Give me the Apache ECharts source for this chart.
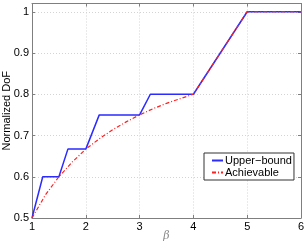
<!DOCTYPE html>
<html><head><meta charset="utf-8">
<script src="https://cdn.jsdelivr.net/npm/echarts@6/dist/echarts.min.js"></script>
<style>html,body{margin:0;padding:0;background:#fff}#c{width:306px;height:248px}</style>
</head><body><div id="c"></div>
<script>
var upperX = [1, 1.2, 1.5, 1.667, 2, 2.25, 3, 3.2, 4, 5, 6];
var upperY = [0.5, 0.6, 0.6, 0.667, 0.667, 0.75, 0.75, 0.8, 0.8, 1, 1];
var achX = [1, 1.25, 1.5, 1.75, 2, 2.25, 2.5, 2.75, 3, 3.25, 3.5, 3.75, 4, 5, 6];
var achY = [0.5, 0.556, 0.6, 0.636, 0.667, 0.692, 0.714, 0.733, 0.75, 0.765, 0.778, 0.789, 0.8, 1, 1];
var xTicks = [1, 2, 3, 4, 5, 6];
var yTicks = [0.5, 0.6, 0.7, 0.8, 0.9, 1];
var seriesNames = ['Upper\u2212bound', 'Achievable'];

function zip(a, b) { return a.map(function (v, i) { return [v, b[i]]; }); }
var frame = '#7f7f7f';
var font = 'Liberation Sans, Arial, sans-serif';
function isTick(list, v) { return list.some(function (t) { return Math.abs(t - v) < 1e-6; }); }

var chart = echarts.init(document.getElementById('c'));
chart.setOption({
  animation: false,
  grid: { left: 32, right: 5, top: 3.5, bottom: 30, containLabel: false, outerBoundsMode: 'none' },
  xAxis: [{
    type: 'value', min: 1, max: 6, interval: 1,
    name: '\u03b2', nameLocation: 'middle', nameGap: 13, nameMoveOverlap: false,
    nameTextStyle: { fontStyle: 'italic', color: '#8a8a8a', fontSize: 11, fontFamily: 'DejaVu Serif, serif' },
    axisLine: { show: true, lineStyle: { color: frame, width: 1 } },
    axisTick: { show: true, inside: true, length: 3, lineStyle: { color: frame } },
    axisLabel: { color: '#000', fontSize: 11, fontFamily: font, margin: 3,
      formatter: function (v) { return isTick(xTicks, v) ? String(v) : ''; } },
    splitLine: { show: true, lineStyle: { color: '#d4d4d4', type: [1, 2], width: 1 } }
  }, {
    type: 'value', min: 1, max: 6, interval: 1, position: 'top',
    axisLine: { show: true, lineStyle: { color: frame, width: 1 } },
    axisTick: { show: true, inside: true, length: 3, lineStyle: { color: frame } },
    axisLabel: { show: false }, splitLine: { show: false }
  }],
  yAxis: [{
    type: 'value', min: 0.5, max: 1.02, interval: 0.1,
    name: 'Normalized DoF', nameLocation: 'middle', nameGap: 20, nameMoveOverlap: false,
    nameTextStyle: { color: '#000', fontSize: 11, fontFamily: font },
    axisLine: { show: true, lineStyle: { color: frame, width: 1 } },
    axisTick: { show: true, inside: true, length: 3, lineStyle: { color: frame } },
    axisLabel: { color: '#000', fontSize: 11, fontFamily: font, margin: 3,
      formatter: function (v) { return isTick(yTicks, v) ? String(Math.round(v * 10) / 10) : ''; } },
    splitLine: { show: true, lineStyle: { color: '#d4d4d4', type: [1, 2], width: 1 } }
  }, {
    type: 'value', min: 0.5, max: 1.02, interval: 0.1, position: 'right',
    axisLine: { show: true, lineStyle: { color: frame, width: 1 } },
    axisTick: { show: true, inside: true, length: 3, lineStyle: { color: frame } },
    axisLabel: { show: false }, splitLine: { show: false }
  }],
  legend: {
    orient: 'vertical', left: 204, top: 153,
    backgroundColor: '#fff', borderColor: '#333', borderWidth: 1,
    padding: [2, 2, 2, 7], itemGap: 1, itemWidth: 11, itemHeight: 12,
    itemStyle: { opacity: 0 },
    textStyle: { color: '#000', fontSize: 11, fontFamily: font, padding: [0, 0, 0, -3] },
    data: seriesNames
  },
  series: [{
    name: seriesNames[0], type: 'line', symbol: 'none', z: 2,
    data: zip(upperX, upperY),
    lineStyle: { color: '#2b2bff', width: 1.5 }, itemStyle: { color: '#2b2bff' }
  }, {
    name: seriesNames[1], type: 'line', symbol: 'none', smooth: false, z: 3,
    data: zip(achX, achY),
    lineStyle: { color: '#ff2020', width: 1.2, type: [4, 2, 1, 2] }, itemStyle: { color: '#ff2020' }
  }]
});
</script></body></html>
